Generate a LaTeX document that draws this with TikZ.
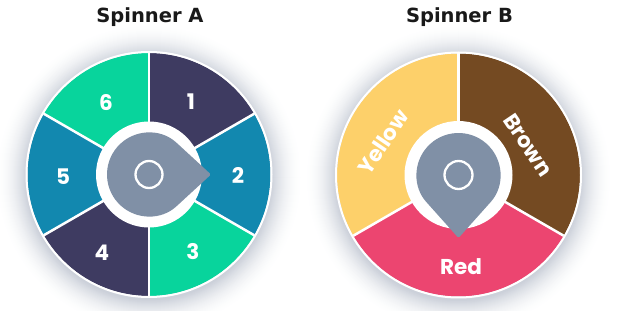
\documentclass[tikz,border=0pt]{standalone}
\usepackage{fontspec}
\usetikzlibrary{calc}
\setmainfont{DejaVu Sans}
\newfontfamily\lblfont{Poppins}
\definecolor{navy}{HTML}{3E3B61}
\definecolor{teal}{HTML}{1288AF}
\definecolor{mint}{HTML}{08D49C}
\definecolor{sunny}{HTML}{FDD06A}
\definecolor{bark}{HTML}{744A22}
\definecolor{rose}{HTML}{EC4570}
\definecolor{pingray}{HTML}{8090A6}
\definecolor{shadeA}{HTML}{CCD1DA}
\tikzset{
  title/.style={font=\bfseries\fontsize{19.5}{21}\selectfont, text=black!90, anchor=base, inner sep=0pt},
  seglabel/.style={font=\lblfont\bfseries\fontsize{21.5}{22}\selectfont, text=white, inner sep=0pt},
  divider/.style={white, line width=2.5pt},
  pinbody/.style={fill=pingray},
  ring/.style={draw=white, line width=2.3pt},
}
\begin{document}
\begin{tikzpicture}[x=1pt,y=1pt]
\useasboundingbox (0,0) rectangle (622,311);
\fill[white] (0,0) rectangle (622,311);
\coordinate (A) at (149,136.5);
\coordinate (B) at (458.5,136);
\def\R{121.5}
% shadows
\foreach \c in {A,B}{
  \foreach \r in {154,153,...,123}{
    \pgfmathtruncatemacro\p{100*((154-\r)/31)^1.9}
    \fill[shadeA!\p!white] ($(\c)+(0,-3)$) circle (\r);
  }
}
% Spinner A segments
\fill[navy] (A) -- ++(30:\R) arc[start angle=30, end angle=90, radius=\R] -- cycle;
\fill[teal] (A) -- ++(-30:\R) arc[start angle=-30, end angle=30, radius=\R] -- cycle;
\fill[mint] (A) -- ++(-90:\R) arc[start angle=-90, end angle=-30, radius=\R] -- cycle;
\fill[navy] (A) -- ++(-150:\R) arc[start angle=-150, end angle=-90, radius=\R] -- cycle;
\fill[teal] (A) -- ++(150:\R) arc[start angle=150, end angle=210, radius=\R] -- cycle;
\fill[mint] (A) -- ++(90:\R) arc[start angle=90, end angle=150, radius=\R] -- cycle;
% Spinner B segments
\fill[bark] (B) -- ++(-30:\R) arc[start angle=-30, end angle=90, radius=\R] -- cycle;
\fill[rose] (B) -- ++(210:\R) arc[start angle=210, end angle=330, radius=\R] -- cycle;
\fill[sunny] (B) -- ++(90:\R) arc[start angle=90, end angle=210, radius=\R] -- cycle;
% dividers and rims
\foreach \a in {90,30,-30,-90,-150,150}{
  \draw[divider] (A) -- ++(\a:\R);
}
\foreach \a in {90,-30,210}{
  \draw[divider] (B) -- ++(\a:\R);
}
\draw[white, line width=2pt] (A) circle (122.5);
\draw[white, line width=2pt] (B) circle (122.5);
% white hubs
\fill[white] (A) circle (53);
\fill[white] (B) circle (54);
% pins
\coordinate (tipA) at ($(A)+(62,0)$);
\coordinate (tipB) at ($(B)+(0,-63)$);
\fill[pinbody, rounded corners=1.5pt] ($(A)+(48.2:42)$) arc[start angle=48.2, end angle=311.8, radius=42] -- (tipA) -- cycle;
\fill[pinbody, rounded corners=1.5pt] ($(B)+(-41.8:42)$) arc[start angle=-41.8, end angle=221.8, radius=42] -- (tipB) -- cycle;
\draw[ring] (A) circle (13.5);
\draw[ring] (B) circle (14);
% titles
\node[title] (tA) at (150,288) {Spinner A};
\node[title] (tB) at (459.5,288) {Spinner B};
% labels A
\node[seglabel] (l1) at (191,209) {1};
\node[seglabel] (l2) at (238,136) {2};
\node[seglabel] (l3) at (193,59) {3};
\node[seglabel] (l4) at (102,58) {4};
\node[seglabel] (l5) at (63,134) {5};
\node[seglabel] (l6) at (106,208) {6};
% labels B
\node[seglabel] (lr) at (461,44) {Red};
\node[seglabel, rotate=-56] (lb) at (528,166) {Brown};
\node[seglabel, rotate=56] (ly) at (383,169) {Yellow};
\end{tikzpicture}
\end{document}
